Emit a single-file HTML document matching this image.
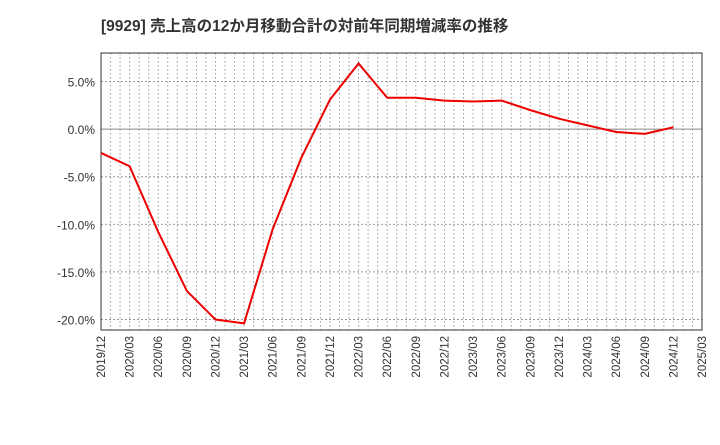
<!DOCTYPE html>
<html><head><meta charset="utf-8"><style>
body{margin:0;background:#fff;}
svg text{font-family:"Liberation Sans","Noto Sans CJK JP",sans-serif;}
</style></head><body>
<svg id="c" width="720" height="440" xmlns="http://www.w3.org/2000/svg">
<text x="101" y="31" font-size="15.5" font-weight="bold" fill="#333">[9929]  売上高の12か月移動合計の対前年同期増減率の推移</text>
<g id="grid"></g><g id="axes"></g><g id="series"></g>
</svg>
<script>
const categories=["2019/12","2020/03","2020/06","2020/09","2020/12","2021/03","2021/06","2021/09","2021/12","2022/03","2022/06","2022/09","2022/12","2023/03","2023/06","2023/09","2023/12","2024/03","2024/06","2024/09","2024/12","2025/03"];
const values=[-2.5,-3.9,-10.8,-17.0,-20.0,-20.4,-10.5,-3.0,3.1,6.9,3.3,3.3,3.0,2.9,3.0,2.0,1.1,0.4,-0.3,-0.5,0.2];
const yTicks=[5,0,-5,-10,-15,-20];
const yTickLabels=["5.0%","0.0%","-5.0%","-10.0%","-15.0%","-20.0%"];
const L=101,R=702,T=53,B=330,yMin=-21.1,yMax=8;
const NS="http://www.w3.org/2000/svg";
const xs=i=>L+(R-L)*i/(categories.length-1);
const ys=v=>T+(yMax-v)/(yMax-yMin)*(B-T);
function mk(p,tag,at){const e=document.createElementNS(NS,tag);for(const k in at)e.setAttribute(k,at[k]);document.getElementById(p).appendChild(e);return e;}
const nMonths=(categories.length-1)*3;
for(let m=1;m<nMonths;m++){const x=L+(R-L)*m/nMonths;
 const l=mk('grid','line',{x1:x,x2:x,y1:T,y2:B,stroke:'#999','stroke-dasharray':'1.5,2.5','stroke-width':1});
 }
yTicks.forEach((v,i)=>{const y=ys(v);
 const l=mk('grid','line',{x1:L,x2:R,y1:y,y2:y,stroke:v===0?'#888':'#999','stroke-dasharray':v===0?'none':'2,2','stroke-width':1});
 
 const t=mk('axes','text',{x:L-6,y:y+5,'text-anchor':'end','font-size':12,fill:'#333'});t.textContent=yTickLabels[i];
 });
const fr=mk('axes','rect',{x:L,y:T,width:R-L,height:B-T,fill:'none',stroke:'#333','stroke-width':1});

categories.forEach((c,i)=>{const x=xs(i);
 const t=mk('axes','text',{x:0,y:0,transform:`translate(${x+4},${B+6}) rotate(-90)`,'text-anchor':'end','font-size':11.5,fill:'#333'});t.textContent=c;
 });
const p=mk('series','polyline',{points:values.map((v,i)=>xs(i)+','+ys(v)).join(' '),fill:'none',stroke:'#e00','stroke-width':2});

</script>
</body></html>
